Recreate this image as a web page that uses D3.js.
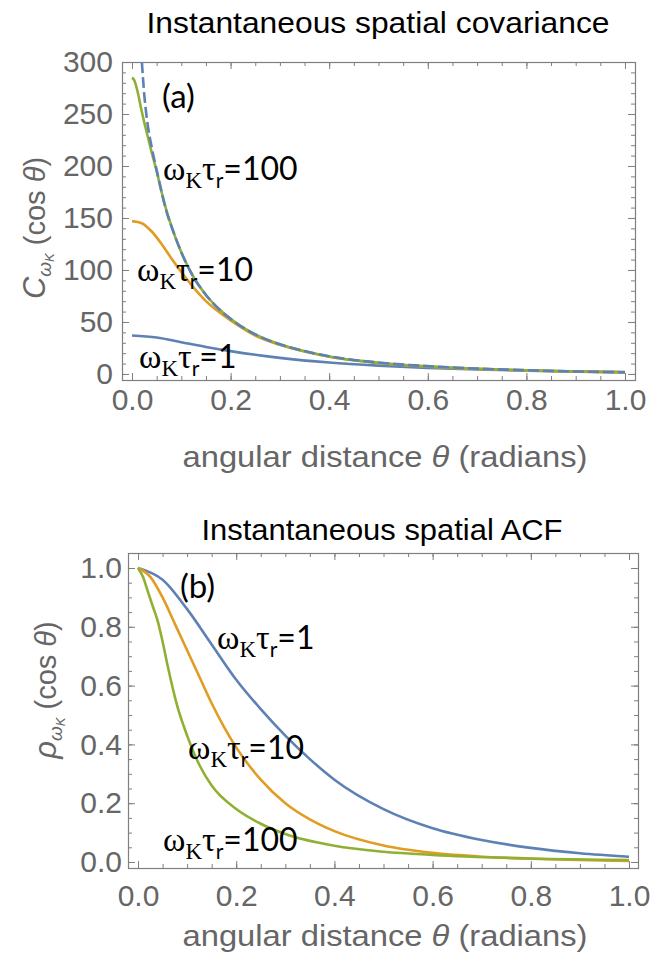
<!DOCTYPE html>
<html>
<head>
<meta charset="utf-8">
<script src="https://cdn.jsdelivr.net/npm/d3@7"></script>
<style>
  body { margin: 0; background: #fff; }
  svg { display: block; }
</style>
</head>
<body>
<svg width="660" height="954"></svg>
<script>
// values
const thetaBlueTop = [0, 0.05, 0.1, 0.15, 0.2, 0.25, 0.3, 0.4, 0.5, 0.6, 0.7, 0.8, 0.9, 1.0];
const covBlue = [37, 35, 30.5, 26, 22, 18.5, 15.5, 11, 8, 5.8, 4.3, 3.2, 2.4, 1.8];

const thetaOrangeTop = [0, 0.02, 0.04, 0.06, 0.08, 0.1, 0.125, 0.15, 0.175, 0.2, 0.25, 0.3, 0.35, 0.4, 0.5, 0.6, 0.7, 0.8, 0.9, 1.0];
const covOrange = [147, 145, 137, 125, 111, 98, 83, 70, 60, 51.5, 37, 28, 21.5, 16.5, 10.5, 7, 4.9, 3.4, 2.3, 1.5];

const thetaGreenTop = [0, 0.005, 0.01, 0.02, 0.03, 0.04, 0.05, 0.06, 0.07, 0.08, 0.1, 0.125, 0.15, 0.2, 0.25, 0.3, 0.4, 0.5, 0.6, 0.7, 0.8, 0.9, 1.0];
const covGreen = [285, 282, 274, 252, 232, 213, 195, 175, 157, 142, 117, 93, 76, 53, 38, 28.5, 16.8, 10.8, 7.3, 5, 3.5, 2.4, 1.6];

const thetaLimit = [0.02, 0.025, 0.03, 0.04, 0.05, 0.06, 0.07, 0.08, 0.1, 0.125, 0.15, 0.175, 0.2, 0.25, 0.3, 0.35, 0.4, 0.5, 0.6, 0.7, 0.8, 0.9, 1.0];
const covLimit = [300, 268, 246, 218, 196, 175, 156, 142, 117, 93, 76, 63, 53, 38, 28.5, 22, 17, 11, 7.5, 5.2, 3.6, 2.4, 1.6];

const thetaBlueBot = [0, 0.05, 0.1, 0.15, 0.2, 0.25, 0.3, 0.35, 0.4, 0.5, 0.6, 0.7, 0.8, 0.9, 1.0];
const acfBlue = [1.0, 0.96, 0.86, 0.74, 0.62, 0.52, 0.43, 0.35, 0.28, 0.18, 0.115, 0.075, 0.048, 0.03, 0.018];

const thetaOrangeBot = [0, 0.025, 0.05, 0.075, 0.1, 0.125, 0.15, 0.175, 0.2, 0.25, 0.3, 0.35, 0.4, 0.5, 0.6, 0.7, 0.8, 0.9, 1.0];
const acfOrange = [1, 0.97, 0.9, 0.81, 0.72, 0.63, 0.54, 0.46, 0.39, 0.28, 0.2, 0.145, 0.105, 0.056, 0.031, 0.018, 0.011, 0.007, 0.004];

const thetaGreenBot = [0, 0.01, 0.02, 0.03, 0.04, 0.05, 0.06, 0.08, 0.1, 0.125, 0.15, 0.2, 0.25, 0.3, 0.4, 0.5, 0.6, 0.8, 1.0];
const acfGreen = [1, 0.97, 0.92, 0.87, 0.82, 0.75, 0.67, 0.53, 0.43, 0.33, 0.26, 0.18, 0.13, 0.095, 0.055, 0.035, 0.024, 0.012, 0.007];

const xTicks = [0, 0.2, 0.4, 0.6, 0.8, 1.0];
const yTicksTop = [0, 50, 100, 150, 200, 250, 300];
const yTicksBot = [0, 0.2, 0.4, 0.6, 0.8, 1.0];

const colours = { blue: "#5e81b5", orange: "#e19c24", green: "#8fb032" };
const grey = "#666";
const frameCol = "#7f7f7f";
const sans = "'Liberation Sans', Arial, sans-serif";

const svg = d3.select("svg");
const zip = (xs, ys) => xs.map((x, i) => [x, ys[i]]);

function panel(opt) {
    const g = svg.append("g");
    const x = d3.scaleLinear().domain(opt.xDom).range([opt.left, opt.right]);
    const y = d3.scaleLinear().domain(opt.yDom).range([opt.bottom, opt.top]);

    const clipId = "clip" + opt.name;
    svg.append("clipPath").attr("id", clipId)
        .append("rect")
        .attr("x", opt.left).attr("y", opt.top)
        .attr("width", opt.right - opt.left).attr("height", opt.bottom - opt.top);

    const minorX = d3.range(0, 1.0001, 0.05);
    const addAxis = (axis, tr) => {
        const a = g.append("g").attr("transform", tr).call(axis);
        a.select(".domain").remove();
        a.selectAll("line").attr("stroke", frameCol);
        a.selectAll("text").attr("fill", grey)
            .attr("font-family", sans)
            .attr("font-size", 30);
        return a;
    };
    // minor ticks on all four sides, pointing inward
    addAxis(d3.axisBottom(x).tickValues(minorX).tickSize(-4).tickFormat(""), `translate(0,${opt.bottom})`);
    addAxis(d3.axisTop(x).tickValues(minorX).tickSize(-4).tickFormat(""), `translate(0,${opt.top})`);
    addAxis(d3.axisLeft(y).tickValues(opt.yMinor).tickSize(-4).tickFormat(""), `translate(${opt.left},0)`);
    addAxis(d3.axisRight(y).tickValues(opt.yMinor).tickSize(-4).tickFormat(""), `translate(${opt.right},0)`);

    // major ticks, labels only bottom and left
    addAxis(d3.axisBottom(x).tickValues(xTicks).tickSize(-7).tickPadding(opt.xPad).tickFormat(d3.format(".1f")), `translate(0,${opt.bottom})`);
    addAxis(d3.axisTop(x).tickValues(xTicks).tickSize(-7).tickFormat(""), `translate(0,${opt.top})`);
    addAxis(d3.axisLeft(y).tickValues(opt.yTicks).tickSize(-7).tickPadding(opt.yPad).tickFormat(opt.yFmt), `translate(${opt.left},0)`);
    addAxis(d3.axisRight(y).tickValues(opt.yTicks).tickSize(-7).tickFormat(""), `translate(${opt.right},0)`);

    g.append("rect")
        .attr("x", opt.left + 0.5).attr("y", opt.top + 0.5)
        .attr("width", opt.right - opt.left).attr("height", opt.bottom - opt.top)
        .attr("fill", "none").attr("stroke", frameCol).attr("stroke-width", 1.2);

    const line = d3.line().x(d => x(d[0])).y(d => y(d[1])).curve(d3.curveMonotoneX);
    const lines = g.append("g").attr("clip-path", `url(#${clipId})`);
    opt.series.forEach(s => {
        lines.append("path")
            .datum(zip(s.x, s.y))
            .attr("d", line)
            .attr("fill", "none")
            .attr("stroke", s.colour)
            .attr("stroke-width", 2.6)
            .attr("stroke-dasharray", s.dash || null);
    });

    // title
    svg.append("text")
        .attr("x", opt.titleX).attr("y", opt.titleY)
        .attr("text-anchor", "middle")
        .attr("font-family", sans)
        .attr("font-size", 30)
        .attr("textLength", opt.titleW)
        .attr("lengthAdjust", "spacingAndGlyphs")
        .attr("fill", "#000")
        .text(opt.title);

    // x label
    const xl = svg.append("text")
        .attr("x", 385).attr("y", opt.xLabelY)
        .attr("text-anchor", "middle")
        .attr("font-family", sans)
        .attr("font-size", 29)
        .attr("textLength", 405)
        .attr("lengthAdjust", "spacingAndGlyphs")
        .attr("fill", grey);
    xl.append("tspan").text("angular distance ");
    xl.append("tspan").attr("font-style", "italic").text("θ");
    xl.append("tspan").text(" (radians)");

    // y label
    const yl = svg.append("text")
        .attr("transform", `translate(${opt.yLabelX},${opt.yLabelY}) rotate(-90)`)
        .attr("text-anchor", "middle")
        .attr("font-family", sans)
        .attr("font-size", 29)
        .attr("fill", grey);
    yl.append("tspan").attr("font-style", "italic").attr("font-size", 31).text(opt.yLetter);
    yl.append("tspan").attr("font-style", "italic").attr("font-size", 19).attr("dy", 6).text("ω");
    yl.append("tspan").attr("font-style", "italic").attr("font-size", 13).attr("dy", 3).text("K");
    yl.append("tspan").attr("dy", -9).text(" (cos ");
    yl.append("tspan").attr("font-style", "italic").text("θ");
    yl.append("tspan").text(")");

    // panel tag
    svg.append("text")
        .attr("x", opt.tag[1]).attr("y", opt.tag[2])
        .attr("font-family", "Lato, 'Open Sans', sans-serif")
        .attr("font-size", 33)
        .attr("fill", "#000")
        .text(opt.tag[0]);

    opt.labels.forEach(l => curveLabel(l[0], l[1], l[2]));
}

function curveLabel(value, lx, ly) {
    const t = svg.append("text").attr("x", lx).attr("y", ly).attr("fill", "#000");
    t.append("tspan").attr("font-family", "'Liberation Serif', serif").attr("font-size", 34).text("ω");
    t.append("tspan").attr("font-family", "'Liberation Serif', serif").attr("font-size", 23).attr("dy", 8).text("K");
    t.append("tspan").attr("font-family", "'Liberation Serif', serif").attr("font-size", 34).attr("dy", -8).text("τ");
    t.append("tspan").attr("font-family", "Lato, sans-serif").attr("font-size", 21).attr("dy", 8).text("r");
    t.append("tspan").attr("font-family", "Lato, sans-serif").attr("font-size", 32).attr("dy", -8).text("=" + value);
}

panel({
    name: "a",
    left: 122, right: 635, top: 62, bottom: 380,
    xDom: [-0.0203, 1.0203], yDom: [-5.8, 300],
    yTicks: yTicksTop, yMinor: d3.range(0, 301, 10), yFmt: d3.format("d"),
    xPad: 9, yPad: 9,
    title: "Instantaneous spatial covariance", titleX: 378, titleY: 33, titleW: 463,
    xLabelY: 467, yLabelX: 45, yLabelY: 228, yLetter: "C",
    tag: ["(a)", 162, 108],
    series: [
        { x: thetaBlueTop, y: covBlue, colour: colours.blue },
        { x: thetaOrangeTop, y: covOrange, colour: colours.orange },
        { x: thetaGreenTop, y: covGreen, colour: colours.green },
        { x: thetaLimit, y: covLimit, colour: colours.blue, dash: "11,4" }
    ],
    labels: [["100", 163, 180], ["10", 137, 281], ["1", 139, 368]]
});

panel({
    name: "b",
    left: 128, right: 638, top: 553, bottom: 868,
    xDom: [-0.0204, 1.0183], yDom: [-0.0204, 1.051],
    yTicks: yTicksBot, yMinor: d3.range(0, 1.0001, 0.05), yFmt: d3.format(".1f"),
    xPad: 17, yPad: 6,
    title: "Instantaneous spatial ACF", titleX: 382, titleY: 540, titleW: 361,
    xLabelY: 946, yLabelX: 56, yLabelY: 690, yLetter: "ρ",
    tag: ["(b)", 180, 598],
    series: [
        { x: thetaBlueBot, y: acfBlue, colour: colours.blue },
        { x: thetaOrangeBot, y: acfOrange, colour: colours.orange },
        { x: thetaGreenBot, y: acfGreen, colour: colours.green }
    ],
    labels: [["1", 217, 649], ["10", 188, 759], ["100", 163, 851]]
});
</script>
</body>
</html>
